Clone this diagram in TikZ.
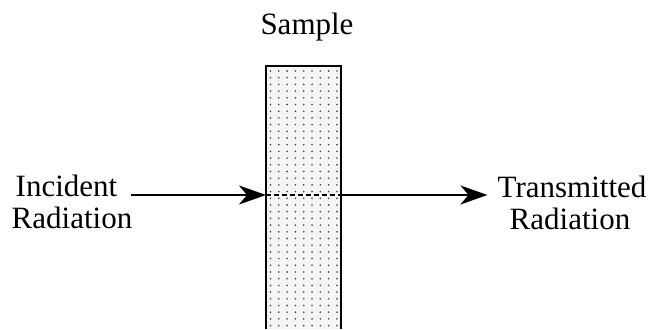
\documentclass[tikz,border=0pt]{standalone}
\usepackage{fontspec}
\setmainfont{Liberation Serif}
\usetikzlibrary{positioning,arrows.meta}

\begin{document}
\begin{tikzpicture}[x=1pt,y=1pt,>={Stealth[length=27pt,width=19pt,inset=8pt]},
  lbl/.style={font=\fontsize{31}{32}\selectfont,inner sep=0pt,anchor=base},
  ray/.style={->,line width=1.9pt}]
\useasboundingbox (0,0) rectangle (655,329);
% sample slab (open at the bottom)
\fill[black!4] (266,0) rectangle (341,263);
\begin{scope}
\clip (267,0) rectangle (340,262);
\foreach \i in {0,...,8}
  \foreach \j in {0,...,39}
    \fill[black!75] (270.5+8.3*\i,258-6.7*\j) circle (0.9pt);
\end{scope}
\draw[line width=1.5pt] (266,0) -- (266,263) -- (341,263) -- (341,0);
\coordinate (inL) at (266,134);
\coordinate (inR) at (341,134);
\node[lbl] (smp) at (307,294) {Sample};
\node[lbl] (inc1) at (66.5,132) {Incident};
\node[lbl] (inc2) at (72,100) {Radiation};
\node[lbl] (trn1) at (572,131) {Transmitted};
\node[lbl] (trn2) at (570,99) {Radiation};
% beam
\draw[ray] ([xshift=14pt]inc1.east |- inL) -- (inL);
\draw[line width=1.4pt,dash pattern=on 5pt off 3pt] (inL) -- (inR);
\draw[ray] (inR) -- ([xshift=-10pt]trn1.west |- inR);
\end{tikzpicture}
\end{document}
